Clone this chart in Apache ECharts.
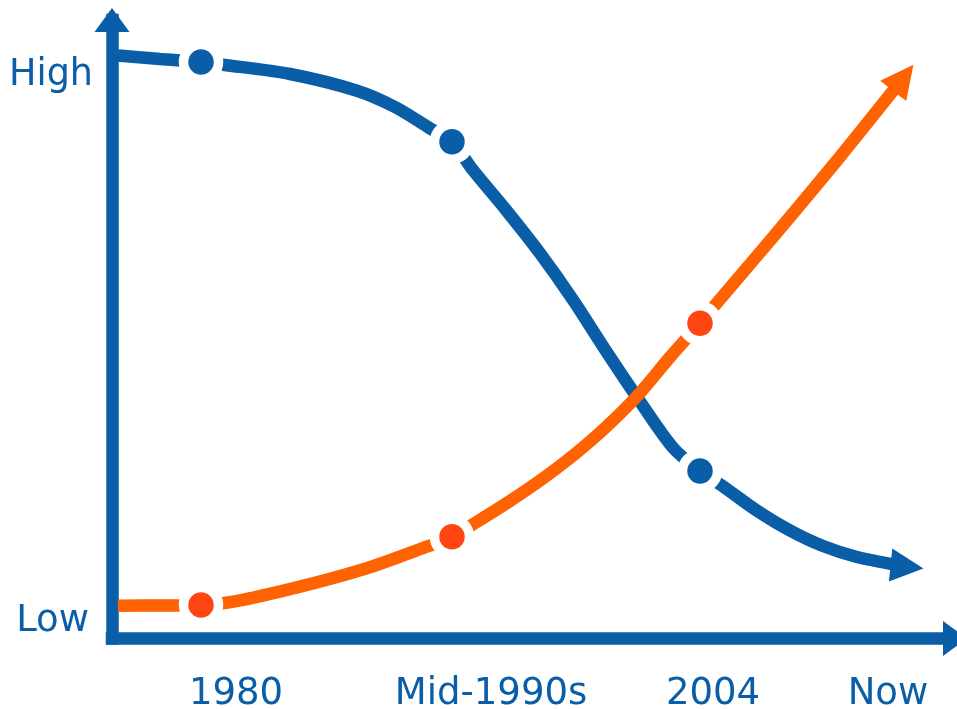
<!DOCTYPE html>
<html>
<head>
<meta charset="utf-8">
<script src="https://cdn.jsdelivr.net/npm/echarts@6/dist/echarts.min.js"></script>
<style>
  html, body { margin: 0; padding: 0; background: #ffffff; }
  #chart { width: 957px; height: 709px; }
</style>
</head>
<body>
<div id="chart"></div>
<script>
// Both axes run 0..100: time from the origin to the arrow, level from the floor to the arrow.
const timeLabels = ['1980', 'Mid-1990s', '2004', 'Now'];
const timeLabelAt = [14.71, 44.96, 71.29, 92.05];
const levelLabels = ['Low', 'High'];
const levelLabelAt = [2.83, 90.95];

// Falling curve (blue)
const blueX = [0.7, 5.69, 10.56, 13.17, 21.12, 29.06, 33.57, 37.72, 40.33, 42.80, 46.74, 50.77,
  54.69, 58.68, 62.63, 66.58, 69.75, 72.48, 76.39, 80.43, 84.34, 88.37, 94.31];
const blueY = [94.26, 93.69, 93.21, 92.77, 91.27, 88.57, 85.93, 82.49, 80.32, 75.75, 69.28, 62.28,
  54.73, 46.32, 38.32, 30.80, 27.08, 24.60, 20.78, 17.46, 14.95, 13.18, 11.61];

// Rising curve (orange)
const orangeX = [0.7, 5.69, 10.56, 14.39, 22.30, 30.21, 37.33, 40.33, 43.06, 47.21, 51.36, 54.92,
  58.48, 62.40, 66.19, 69.75, 71.73, 78.45, 86.36, 93.87];
const orangeY = [5.30, 5.34, 5.42, 5.95, 8.38, 11.35, 14.84, 16.46, 18.67, 22.23, 26.11, 29.83,
  34.03, 39.35, 45.49, 50.96, 54.20, 64.96, 77.90, 90.64];

// Milestones: 1980, mid-1990s, 2004
const dotX = [10.56, 40.33, 69.75];
const blueDotY = [93.21, 80.32, 27.08];
const orangeDotY = [5.42, 16.46, 50.96];

// Arrowhead base and centre at the end of each curve
const blueArrow = [[92.38, 11.88], [94.31, 11.61]];
const orangeArrow = [[92.68, 88.55], [93.87, 90.64]];

const BLUE = '#0a5ea8';
const ORANGE = '#ff6200';
const ORANGE_DOT = '#ff4511';
const FONT = 'DejaVu Sans';
const FONT_SIZE = 37;
const STROKE = 12.5;

const zip = (xs, ys) => xs.map((x, i) => [x, ys[i]]);

const chart = echarts.init(document.getElementById('chart'), null, { renderer: 'canvas' });

const curve = (xs, ys, color) => ({
  type: 'line',
  data: zip(xs, ys),
  smooth: 0.3,
  showSymbol: false,
  symbol: 'none',
  clip: false,
  lineStyle: { color: color, width: STROKE, cap: 'butt', opacity: 1 },
  silent: true
});

const dots = (ys, color) => ({
  type: 'scatter',
  data: zip(dotX, ys),
  symbol: 'circle',
  symbolSize: 35,
  itemStyle: { color: color, borderColor: '#ffffff', borderWidth: 9.5, opacity: 1 },
  z: 5,
  silent: true
});

const arrowHead = (coords, color, size) => ({
  type: 'lines',
  coordinateSystem: 'cartesian2d',
  data: [{ coords: coords }],
  symbol: ['none', 'triangle'],
  symbolSize: size,
  lineStyle: { color: color, width: STROKE, opacity: 1, curveness: 0 },
  z: 4,
  silent: true
});

chart.setOption({
  animation: false,
  backgroundColor: '#ffffff',
  grid: {
    left: 112, right: 2, top: 20, bottom: 70.5,
    containLabel: false,
    outerBoundsMode: 'none'
  },
  xAxis: {
    type: 'value',
    min: 0,
    max: 100,
    splitLine: { show: false },
    axisTick: { show: false },
    axisLine: {
      show: true,
      onZero: false,
      symbol: ['none', 'triangle'],
      symbolSize: [35, 24],
      lineStyle: { color: BLUE, width: STROKE, cap: 'square' }
    },
    axisLabel: {
      customValues: timeLabelAt,
      formatter: (v) => timeLabels[timeLabelAt.indexOf(v)],
      color: BLUE,
      fontFamily: FONT,
      fontSize: FONT_SIZE,
      margin: 37.5
    }
  },
  yAxis: {
    type: 'value',
    min: 0,
    max: 100,
    splitLine: { show: false },
    axisTick: { show: false },
    axisLine: {
      show: true,
      onZero: false,
      symbol: ['none', 'triangle'],
      symbolSize: [35, 24],
      lineStyle: { color: BLUE, width: STROKE, cap: 'square' }
    },
    axisLabel: {
      customValues: levelLabelAt,
      formatter: (v) => {
        const text = levelLabels[levelLabelAt.indexOf(v)];
        return text === 'Low' ? '{low|' + text + '}' : '{high|' + text + '}';
      },
      color: BLUE,
      fontFamily: FONT,
      fontSize: FONT_SIZE,
      margin: 19,
      rich: {
        low: { color: BLUE, fontFamily: FONT, fontSize: FONT_SIZE, padding: [0, 4, 0, 0] },
        high: { color: BLUE, fontFamily: FONT, fontSize: FONT_SIZE - 0.5 }
      }
    }
  },
  series: [
    curve(blueX, blueY, BLUE),
    curve(orangeX, orangeY, ORANGE),
    arrowHead(blueArrow, BLUE, [37.5, 33]),
    arrowHead(orangeArrow, ORANGE, [39, 33]),
    dots(blueDotY, BLUE),
    dots(orangeDotY, ORANGE_DOT)
  ]
});
</script>
</body>
</html>
